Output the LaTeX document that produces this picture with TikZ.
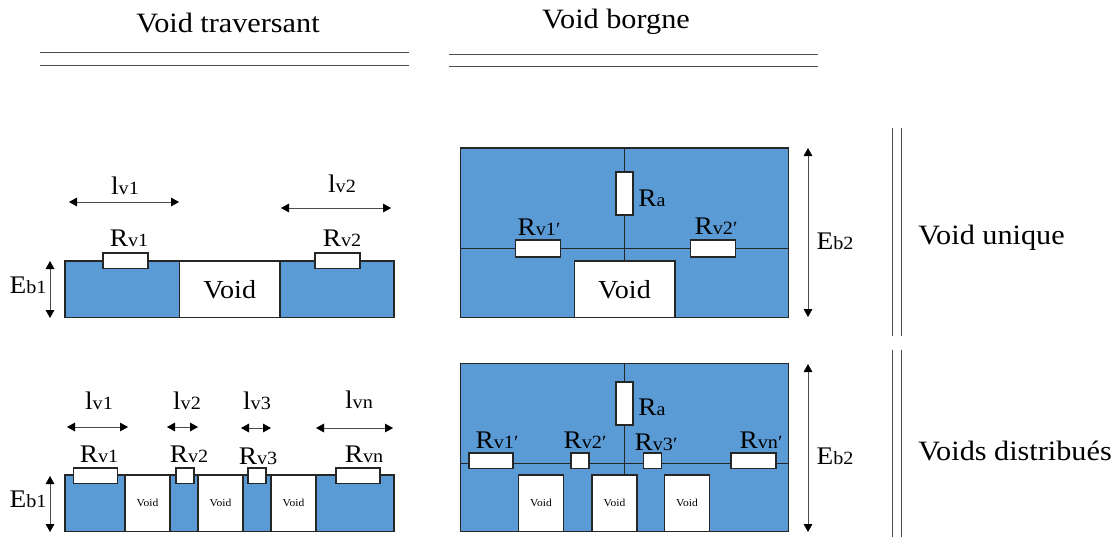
\documentclass[tikz,border=0pt]{standalone}
\usepackage{fontspec}
\setmainfont[FakeStretch=1.08]{Liberation Serif}
\usetikzlibrary{arrows.meta}
\definecolor{bulkblue}{HTML}{5B9BD5}
\newcommand{\lbl}[2]{#1{\fontsize{14}{14}\selectfont #2}}
\tikzset{
    bulk/.style={draw=black!85,line width=1.1pt,fill=bulkblue,inner sep=0pt},
    voidbox/.style={draw=black!85,line width=1.1pt,fill=white,inner sep=0pt,font=\fontsize{19.5}{19.5}\selectfont},
    smallvoid/.style={voidbox,minimum width=34pt,minimum height=42.4pt,font=\fontsize{8}{8}\selectfont},
    resbox/.style={draw=black!85,line width=1.1pt,fill=white,inner sep=0pt,minimum height=11.6pt},
    dim/.style={{Triangle[length=6pt,width=6.5pt,black]}-{Triangle[length=6pt,width=6.5pt,black]},line width=0.6pt,black!70},
    wire/.style={line width=0.6pt,black!85},
    rule/.style={line width=0.5pt,black!70},
    tag/.style={inner sep=0pt,font=\fontsize{19}{19}\selectfont},
    title/.style={inner sep=0pt,font=\fontsize{21}{21}\selectfont},
}
\begin{document}
\begin{tikzpicture}[x=0.75pt,y=-0.75pt]
    \useasboundingbox (0,0) rectangle (1116,537);
    % headings
    \node[title] (headA) at (228,23) {Void traversant};
    \node[title] (headB) at (616,21.5) {Void borgne};
    \node[title,anchor=west] (rowA) at (918,237.5) {Void unique};
    \node[title,anchor=west] (rowB) at (918,451) {Voids distribués};
    \foreach \n/\xa/\xb/\y in {a/40/409/52,b/40/409/65,c/449/818/54,d/449/818/66}{
        \coordinate (r\n1) at (\xa,\y);
        \coordinate (r\n2) at (\xb,\y);
        \draw[rule] (r\n1) -- (r\n2);
    }
    \foreach \n/\x/\ya/\yb in {e/892/128/336,f/901/128/336,g/892/350/537,h/901/350/537}{
        \coordinate (r\n1) at (\x,\ya);
        \coordinate (r\n2) at (\x,\yb);
        \draw[rule] (r\n1) -- (r\n2);
    }

    % through void, single
    \node[bulk,minimum width=246.75pt,minimum height=42.4pt] (bulkA) at (229.5,289.25) {};
    \node[voidbox,minimum width=75.4pt,minimum height=42.4pt] (voidA) at (229.75,289.25) {Void};
    \node[resbox,minimum width=33.5pt] (rAa) at (125.5,260.5) {};
    \node[resbox,minimum width=33.5pt] (rAb) at (337.5,260.5) {};
    \node[tag] at (129,238) {\lbl{R}{v1}};
    \node[tag] at (342,238) {\lbl{R}{v2}};
    \node[tag] at (125,186) {\lbl{l}{v1}};
    \node[tag] at (342,184) {\lbl{l}{v2}};
    \node[tag] at (28,285) {\lbl{E}{b1}};

    % blind void, single
    \node[bulk,minimum width=246pt,minimum height=127.1pt] (bulkB) at (624.5,232.75) {};
    \node[voidbox,minimum width=75.4pt,minimum height=42.4pt] (voidB) at (624.5,289.25) {Void};
    \node[resbox,minimum width=13pt,minimum height=32.5pt] (rBa) at (624.5,193.5) {};
    \node[resbox,minimum width=33.5pt,minimum height=12.5pt] (rBb) at (538,248.5) {};
    \node[resbox,minimum width=33.5pt,minimum height=12.5pt] (rBc) at (713,248.5) {};
    \coordinate (topB) at (624.5,148);
    \coordinate (leftB) at (460.5,248.5);
    \coordinate (rightB) at (788.5,248.5);
    \coordinate (botB) at (624.5,261);
    \draw[wire] (topB) -- (rBa.north);
    \draw[wire] (rBa.south) -- (botB);
    \draw[wire] (leftB) -- (rBb.west);
    \draw[wire] (rBb.east) -- (rBc.west);
    \draw[wire] (rBc.east) -- (rightB);
    \node[tag] at (539,227) {\lbl{R}{v1′}};
    \node[tag] at (716,226) {\lbl{R}{v2′}};
    \node[tag] at (652,198) {\lbl{R}{a}};
    \node[tag] at (835,241) {\lbl{E}{b2}};

    % through voids, distributed
    \node[bulk,minimum width=246.75pt,minimum height=42.4pt] (bulkC) at (229.5,503.25) {};
    \foreach \i/\x in {1/147.5,2/220.5,3/293.5}
        \node[smallvoid] (voidC\i) at (\x,503.25) {Void};
    \node[resbox,minimum width=33pt] (rCa) at (95.5,475.5) {};
    \node[resbox,minimum width=13.5pt] (rCb) at (185,475.5) {};
    \node[resbox,minimum width=13.5pt] (rCc) at (257,475.5) {};
    \node[resbox,minimum width=33pt] (rCd) at (358,475.5) {};
    \node[tag] at (99,454) {\lbl{R}{v1}};
    \node[tag] at (189,454) {\lbl{R}{v2}};
    \node[tag] at (258,456) {\lbl{R}{v3}};
    \node[tag] at (364,454) {\lbl{R}{vn}};
    \node[tag] at (99,401) {\lbl{l}{v1}};
    \node[tag] at (187,401) {\lbl{l}{v2}};
    \node[tag] at (257,401) {\lbl{l}{v3}};
    \node[tag] at (359,400) {\lbl{l}{vn}};
    \node[tag] at (28,499) {\lbl{E}{b1}};

    % blind voids, distributed
    \node[bulk,minimum width=246pt,minimum height=126pt] (bulkD) at (624.5,447.25) {};
    \foreach \i/\x in {1/541,2/614.5,3/687}
        \node[smallvoid] (voidD\i) at (\x,503.25) {Void};
    \node[resbox,minimum width=13pt,minimum height=32.5pt] (rDa) at (624.5,403.5) {};
    \node[resbox,minimum width=33pt] (rDb) at (491,460.5) {};
    \node[resbox,minimum width=13.5pt] (rDc) at (580,460.5) {};
    \node[resbox,minimum width=13.5pt] (rDd) at (652.5,460.5) {};
    \node[resbox,minimum width=33.5pt] (rDe) at (753.5,460.5) {};
    \coordinate (topD) at (624.5,363);
    \coordinate (leftD) at (460.5,463.5);
    \coordinate (rightD) at (788.5,463.5);
    \coordinate (botD) at (624.5,475);
    \draw[wire] (topD) -- (rDa.north);
    \draw[wire] (rDa.south) -- (botD);
    \draw[wire] (leftD) -- (rDb.west |- leftD);
    \draw[wire] (rDb.east |- leftD) -- (rDc.west |- leftD);
    \draw[wire] (rDc.east |- leftD) -- (rDd.west |- leftD);
    \draw[wire] (rDd.east |- leftD) -- (rDe.west |- leftD);
    \draw[wire] (rDe.east |- leftD) -- (rightD);
    \node[tag] at (497,440) {\lbl{R}{v1′}};
    \node[tag] at (585,440) {\lbl{R}{v2′}};
    \node[tag] at (656,442) {\lbl{R}{v3′}};
    \node[tag] at (761,440) {\lbl{R}{vn′}};
    \node[tag] at (652,407) {\lbl{R}{a}};
    \node[tag] at (835,456) {\lbl{E}{b2}};

    % dimension arrows
    \foreach \n/\xa/\ya/\xb/\yb in {a/69/202/179/202,b/281/208/391/208,c/50/261/50/318,
        d/67/427/128/427,e/167/427/198/427,f/241/428/271/428,g/316/428/393/428,h/50/476/50/532,
        i/808/148/808/317,j/808/364/808/532}{
        \coordinate (dim\n1) at (\xa,\ya);
        \coordinate (dim\n2) at (\xb,\yb);
        \draw[dim] (dim\n1) -- (dim\n2);
    }
\end{tikzpicture}
\end{document}
